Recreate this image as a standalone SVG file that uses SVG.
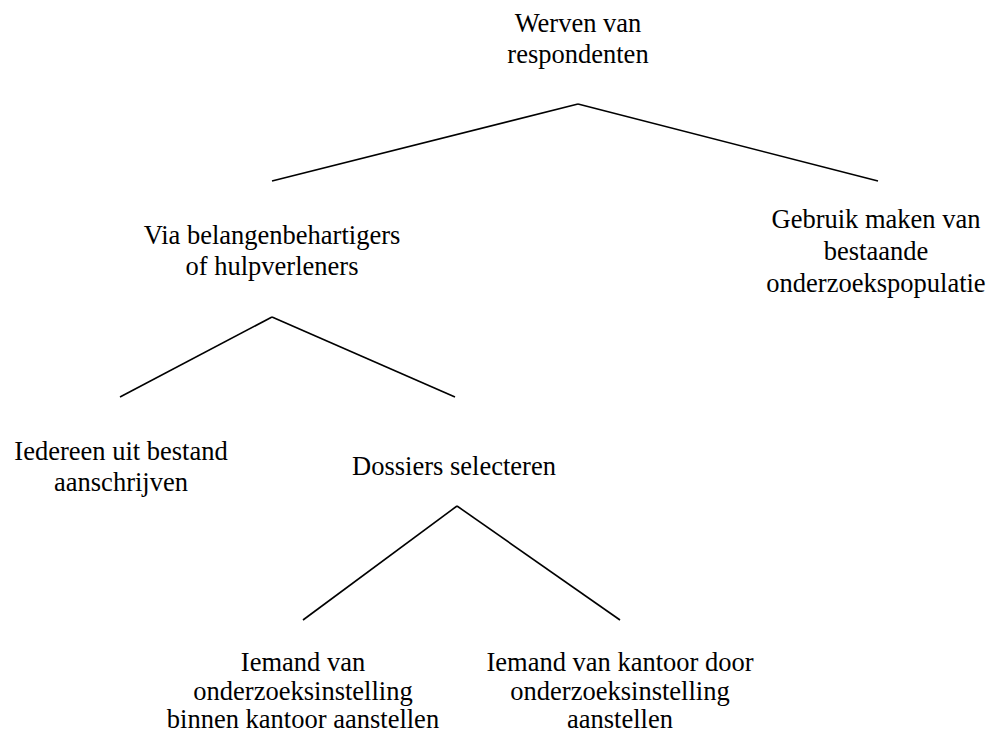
<svg xmlns="http://www.w3.org/2000/svg" width="989" height="733" viewBox="0 0 989 733">
<style>
.c line{stroke:#000;stroke-width:1.6;fill:none}
</style>
<rect width="989" height="733" fill="#fff"/>
<g class="c" id="connectors">
<line x1="578" y1="104" x2="272" y2="181"/>
<line x1="578" y1="104" x2="878" y2="181"/>
<line x1="272" y1="317" x2="120" y2="397"/>
<line x1="272" y1="317" x2="455" y2="397"/>
<line x1="457" y1="506" x2="303" y2="620"/>
<line x1="457" y1="506" x2="620" y2="620"/>
</g>
<g font-family="Liberation Serif, Times New Roman, serif" font-size="26.5" fill="#000" text-anchor="middle">
<g id="n1"><text x="578" y="32">Werven van</text><text x="578" y="63">respondenten</text></g>
<g id="n2"><text x="272" y="244">Via belangenbehartigers</text><text x="272" y="275">of hulpverleners</text></g>
<g id="n3"><text x="876" y="228">Gebruik maken van</text><text x="876" y="260">bestaande</text><text x="876" y="292">onderzoekspopulatie</text></g>
<g id="n4"><text x="121" y="460">Iedereen uit bestand</text><text x="121" y="491">aanschrijven</text></g>
<g id="n5"><text x="454" y="475">Dossiers selecteren</text></g>
<g id="n6"><text x="303" y="671">Iemand van</text><text x="303" y="700">onderzoeksinstelling</text><text x="303" y="728">binnen kantoor aanstellen</text></g>
<g id="n7"><text x="620" y="671">Iemand van kantoor door</text><text x="620" y="700">onderzoeksinstelling</text><text x="620" y="728">aanstellen</text></g>
</g>
</svg>
